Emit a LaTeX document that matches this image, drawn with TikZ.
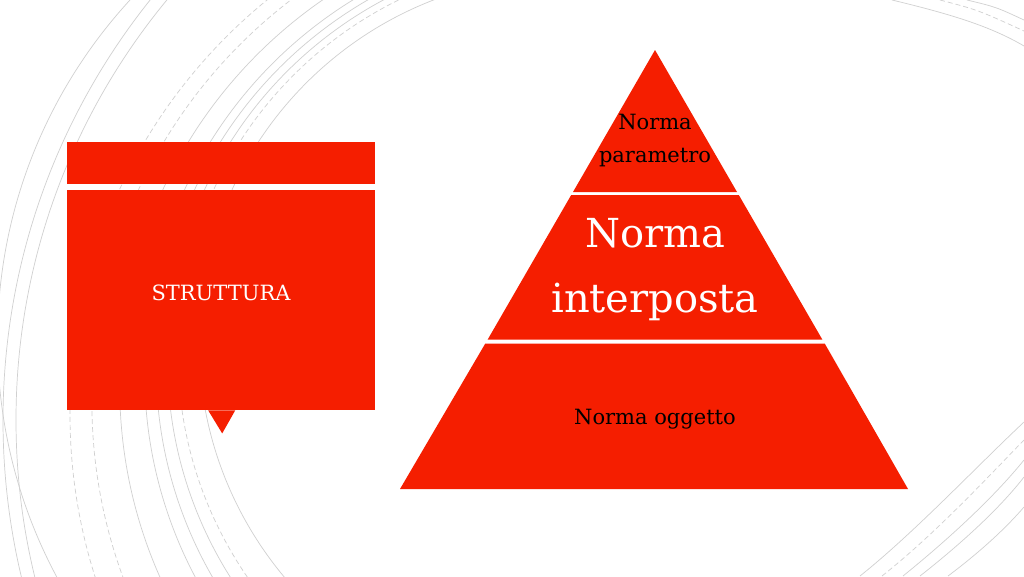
\documentclass[tikz,border=0pt]{standalone}
\usepackage{fontspec}
\setmainfont{DejaVu Serif}
\usetikzlibrary{positioning}

\definecolor{pyrred}{RGB}{245,30,0}
\definecolor{arcgray}{RGB}{208,208,208}

\tikzset{
  arcline/.style={draw=arcgray,line width=0.7pt},
  arcdash/.style={arcline,dash pattern=on 5pt off 3pt},
  redpart/.style={fill=pyrred,draw=none},
  smalltxt/.style={font=\fontsize{21}{25}\selectfont,text=black,inner sep=0pt,anchor=base},
  bigtxt/.style={font=\fontsize{40}{48}\selectfont,text=white,inner sep=0pt,anchor=base},
}

\begin{document}
\begin{tikzpicture}[x=1pt,y=-1pt]
\useasboundingbox (0,0) rectangle (1024,576);
\fill[white] (0,0) rectangle (1024,576);

% Arcs left
\begin{scope}
\clip (0,0) rectangle (520,576);
\draw[arcline] (500,340) circle[radius=502.5];
\draw[arcline] (676,420) circle[radius=673];
\draw[arcline] (676,420) circle[radius=660];

\draw[arcdash] (604.5,414.5) circle[radius=534.5];
\draw[arcdash] (597.9,402.2) circle[radius=506];
\draw[arcline] (589.5,386.6) circle[radius=469.8];
\draw[arcline] (582,372.6) circle[radius=437.4];
\draw[arcline] (578.5,366.1) circle[radius=422.4];
\draw[arcline] (575,359.7) circle[radius=407.5];
\draw[arcdash] (571.9,353.8) circle[radius=393.9];
\draw[arcline] (565.5,342) circle[radius=366.5];
\end{scope}

% Arcs right
\draw[arcline] (892,0) .. controls (950,14) and (990,26) .. (1024,46);
\draw[arcdash] (940,0) .. controls (978,10) .. (1024,31);
\draw[arcline] (967,0) .. controls (996,7) .. (1024,20);

\draw[arcline] (860,576) .. controls (915,532) and (975,468) .. (1024,422);
\draw[arcdash] (882,576) .. controls (935,534) and (985,480) .. (1024,440);
\draw[arcline] (903,576) .. controls (950,538) and (995,496) .. (1024,460);
\draw[arcline] (920,576) .. controls (962,543) and (1000,508) .. (1024,477);
\draw[arcline] (948,576) .. controls (980,552) and (1006,528) .. (1024,507);

% Box
\node[rectangle,redpart,minimum height = 42pt,minimum width = 308pt,anchor=north west] (bar) at (67,142) {};
\node[rectangle,redpart,minimum height = 220pt,minimum width = 308pt,anchor=north west] (box) at (67,190) {};
\fill[pyrred] ([xshift=-13pt]box.south) -- ([xshift=14pt]box.south) -- ([xshift=1pt,yshift=-23pt]box.south) -- cycle;
\node[smalltxt,text=white] (struct) at (221,300) {STRUTTURA};

% Pyramid
\coordinate (apex) at (655,50);
\fill[redpart] (apex) -- (737,192) -- (573,192) -- cycle;
\fill[redpart] (571.2,195) -- (738.8,195) -- (822.3,339.5) -- (487.7,339.5) -- cycle;
\fill[redpart] (485.3,343.5) -- (824.7,343.5) -- (908,489) -- (400,489) -- cycle;

\node[smalltxt] (param1) at (655,129) {Norma};
\node[smalltxt] (param2) at (655,162) {parametro};
\node[bigtxt] (inter1) at (655,247) {Norma};
\node[bigtxt] (inter2) at (655,312) {interposta};
\node[smalltxt] (ogg) at (655,424) {Norma oggetto};

\end{tikzpicture}
\end{document}
